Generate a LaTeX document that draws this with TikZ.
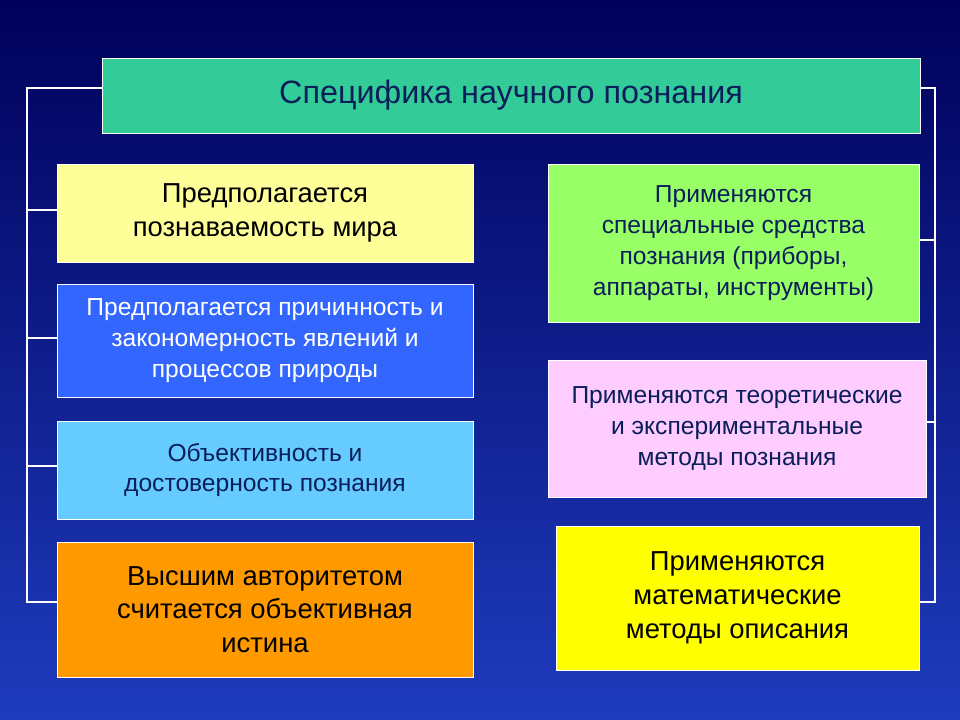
\documentclass[tikz,border=0pt]{standalone}
\usepackage{fontspec}
\setmainfont{Liberation Sans}
\definecolor{titlegreen}{RGB}{51,204,153}
\definecolor{titletext}{RGB}{10,30,90}
\definecolor{paleyellow}{RGB}{255,255,153}
\definecolor{midblue}{RGB}{51,102,255}
\definecolor{skyblue}{RGB}{102,204,255}
\definecolor{orangebox}{RGB}{255,153,0}
\definecolor{palegreen}{RGB}{153,255,102}
\definecolor{palepink}{RGB}{255,204,255}
\definecolor{brightyellow}{RGB}{255,255,0}
\definecolor{bgtop}{RGB}{0,0,90}
\definecolor{bgbottom}{RGB}{30,60,190}
\tikzset{
  card/.style={draw=white, line width=0.6pt, align=center, inner sep=2pt,
    text=titletext, font=\fontsize{17.5}{22}\selectfont},
  bigcard/.style={card, text=black, font=\fontsize{19.5}{24}\selectfont},
  link/.style={draw=white, line width=0.8pt}
}
\begin{document}
\begin{tikzpicture}[x=0.025cm, y=-0.025cm]
  \shade[top color=bgtop, bottom color=bgbottom] (0,0) rectangle (960,720);
  \useasboundingbox (0,0) rectangle (960,720);
%
  \node[card, fill=titlegreen, minimum width=818*0.025cm, minimum height=75*0.025cm,
    font=\fontsize{23}{27}\selectfont] (title) at (511,95.5) {Специфика научного познания};
%
  \node[bigcard, fill=paleyellow, minimum width=416*0.025cm, minimum height=98*0.025cm]
    (world) at (265,213) {Предполагается\\познаваемость мира};
  \node[card, fill=midblue, text=white, minimum width=416*0.025cm, minimum height=113*0.025cm]
    (cause) at (265,340.5) {Предполагается причинность и\\закономерность явлений и\\процессов природы};
  \node[card, fill=skyblue, minimum width=416*0.025cm, minimum height=98*0.025cm]
    (object) at (265,470) {Объективность и\\достоверность познания};
  \node[bigcard, fill=orangebox, minimum width=416*0.025cm, minimum height=135*0.025cm]
    (truth) at (265,609.5) {Высшим авторитетом\\считается объективная\\истина};
%
  \node[card, fill=palegreen, minimum width=371*0.025cm, minimum height=158*0.025cm]
    (tools) at (733.5,243) {Применяются\\специальные средства\\познания (приборы,\\аппараты, инструменты)};
  \node[card, fill=palepink, minimum width=378*0.025cm, minimum height=137*0.025cm]
    (methods) at (737,428.5) {Применяются теоретические\\и экспериментальные\\методы познания};
  \node[bigcard, fill=brightyellow, minimum width=363*0.025cm, minimum height=144*0.025cm]
    (maths) at (737.5,598) {Применяются\\математические\\методы описания};
%
  % left spine
  \coordinate (ltop) at (27,88);
  \coordinate (lbot) at (27,602);
  \draw[link] (title.west |- ltop) -- (ltop) -- (lbot) -- (lbot -| truth.west);
  \foreach \b/\y in {world/210, cause/338, object/466}
    \draw[link] (27,\y) -- (\b.west |- {(0,\y)});
  % right spine
  \coordinate (rtop) at (935,88);
  \coordinate (rbot) at (935,602);
  \draw[link] (title.east |- rtop) -- (rtop) -- (rbot) -- (rbot -| maths.east);
  \foreach \b/\y in {tools/240, methods/422}
    \draw[link] (935,\y) -- (\b.east |- {(0,\y)});
\end{tikzpicture}
\end{document}
